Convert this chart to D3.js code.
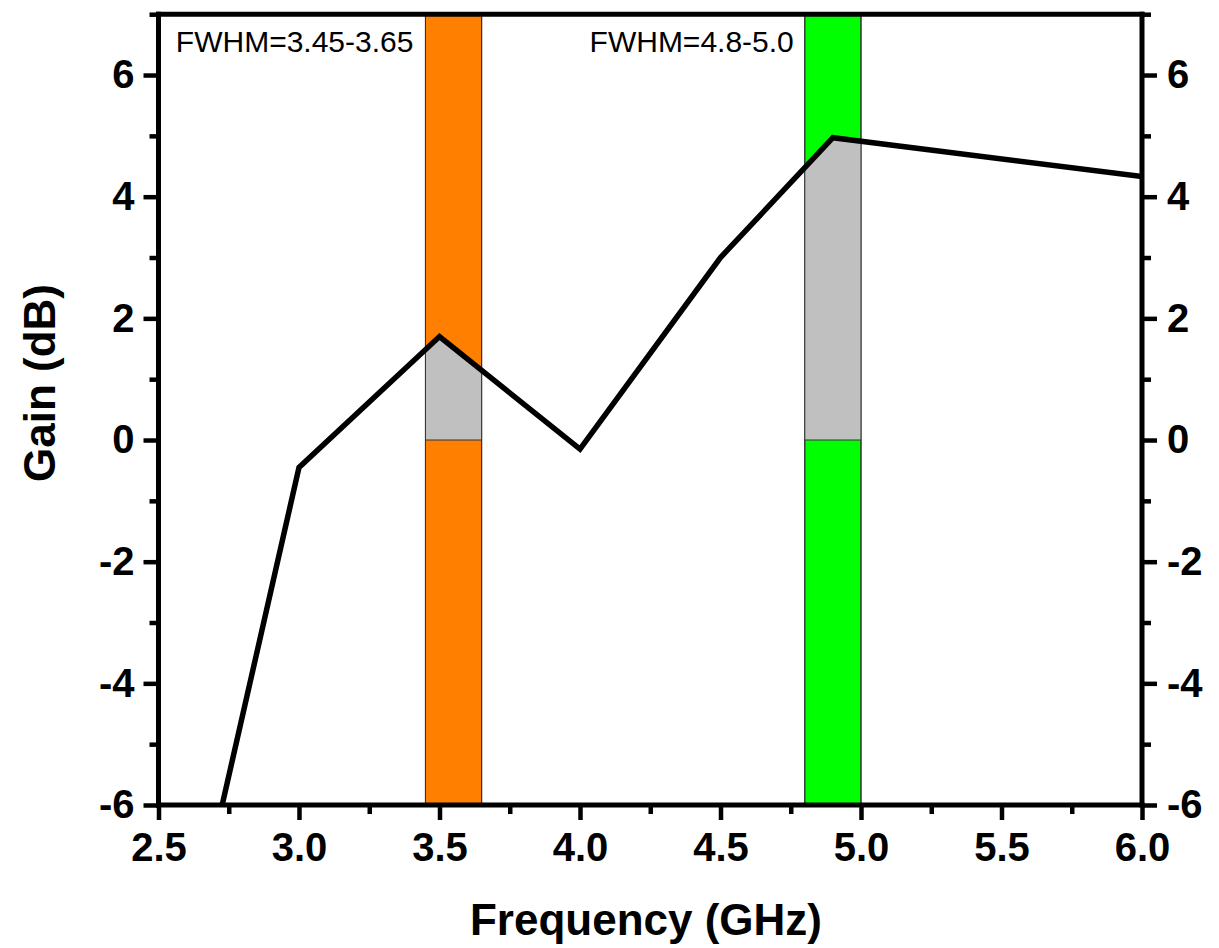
<!DOCTYPE html>
<html>
<head>
<meta charset="utf-8">
<script src="https://cdn.jsdelivr.net/npm/d3@7"></script>
<style>
  html, body { margin: 0; padding: 0; background: #fff; }
  svg { display: block; font-family: "Liberation Sans", Arial, sans-serif; }
</style>
</head>
<body>
<svg id="chart" width="1219" height="948"></svg>
<script>
// Measured gain of the amplifier versus frequency
const freq = [2.5, 3.0, 3.5, 4.0, 4.5, 4.9, 6.0];
const gain = [-10.6, -0.45, 1.7, -0.15, 3.0, 4.97, 4.33];

// Highlighted FWHM bands
const bandStart = [3.45, 4.8];
const bandEnd = [3.65, 5.0];
const bandColor = ["#FF8000", "#00FF00"];
const bandLabel = ["FWHM=3.45-3.65", "FWHM=4.8-5.0"];

// Tick values
const xMajor = [2.5, 3.0, 3.5, 4.0, 4.5, 5.0, 5.5, 6.0];
const xMinor = [2.75, 3.25, 3.75, 4.25, 4.75, 5.25, 5.75];
const yMajor = [-6, -4, -2, 0, 2, 4, 6];
const yMinor = [-5, -3, -1, 1, 3, 5, 7];

const svg = d3.select("#chart");
const pL = 158.5, pR = 1142, pT = 14.2, pB = 805;

const x = d3.scaleLinear().domain([2.5, 6.0]).range([pL, pR]);
const y = d3.scaleLinear().domain([-6, 7]).range([pB, pT]);

const pts = freq.map((f, i) => ({ f, g: gain[i] }));

const defs = svg.append("defs");
defs.append("clipPath").attr("id", "plotClip")
  .append("rect").attr("x", pL).attr("y", pT)
  .attr("width", pR - pL).attr("height", pB - pT);

bandStart.forEach((b, i) => {
  defs.append("clipPath").attr("id", "band" + i)
    .append("rect").attr("x", x(b)).attr("y", pT)
    .attr("width", x(bandEnd[i]) - x(b)).attr("height", pB - pT);
});

// Colored bands
svg.append("g").selectAll("rect").data(bandStart).join("rect")
  .attr("x", d => x(d))
  .attr("y", pT)
  .attr("width", (d, i) => x(bandEnd[i]) - x(d))
  .attr("height", pB - pT)
  .attr("fill", (d, i) => bandColor[i])
  .attr("stroke", "#333")
  .attr("stroke-width", 1);

// Gray area between 0 dB and the gain curve inside each band
const area = d3.area().x(d => x(d.f)).y0(y(0)).y1(d => y(d.g));
bandStart.forEach((b, i) => {
  const g = svg.append("g").attr("clip-path", `url(#band${i})`);
  g.append("path").datum(pts).attr("d", area)
    .attr("fill", "#C0C0C0").attr("stroke", "none");
  g.append("line")
    .attr("x1", x(b)).attr("x2", x(bandEnd[i]))
    .attr("y1", y(0)).attr("y2", y(0))
    .attr("stroke", "#333").attr("stroke-width", 1.2);
  // band edges redrawn over the gray
  [b, bandEnd[i]].forEach(v => {
    svg.append("line").attr("x1", x(v)).attr("x2", x(v))
      .attr("y1", pT).attr("y2", pB)
      .attr("stroke", "#333").attr("stroke-width", 1);
  });
});

// Gain curve
svg.append("path").datum(pts)
  .attr("clip-path", "url(#plotClip)")
  .attr("fill", "none")
  .attr("stroke", "#000")
  .attr("stroke-width", 5.5)
  .attr("stroke-linejoin", "miter")
  .attr("d", d3.line().x(d => x(d.f)).y(d => y(d.g)));

// Band labels
svg.append("g").selectAll("text").data(bandLabel).join("text")
  .attr("x", (d, i) => x(bandStart[i]) - (i === 0 ? 12 : 11))
  .attr("y", 52)
  .attr("text-anchor", "end")
  .attr("font-size", 30)
  .attr("fill", "#000")
  .text(d => d);

// Axes
const axW = 5;
function styleAxis(g) {
  g.select(".domain").remove();
  g.selectAll(".tick line").attr("stroke", "#000").attr("stroke-width", 4.5);
  g.selectAll(".tick text").attr("fill", "#000").attr("font-size", 40)
    .attr("font-weight", "bold").attr("font-family", "'Liberation Sans', Arial, sans-serif");
}
const intFmt = d => String(d);

// bottom
svg.append("g").attr("transform", `translate(0,${pB})`)
  .call(d3.axisBottom(x).tickValues(xMajor).tickSize(15).tickPadding(13).tickFormat(d3.format(".1f")))
  .call(styleAxis);
svg.append("g").attr("transform", `translate(0,${pB})`)
  .call(d3.axisBottom(x).tickValues(xMinor).tickSize(9).tickFormat(""))
  .call(styleAxis);

// left
svg.append("g").attr("transform", `translate(${pL},0)`)
  .call(d3.axisLeft(y).tickValues(yMajor).tickSize(15).tickPadding(9).tickFormat(intFmt))
  .call(styleAxis);
svg.append("g").attr("transform", `translate(${pL},0)`)
  .call(d3.axisLeft(y).tickValues(yMinor).tickSize(9).tickFormat(""))
  .call(styleAxis);

// right
svg.append("g").attr("transform", `translate(${pR},0)`)
  .call(d3.axisRight(y).tickValues(yMajor).tickSize(15).tickPadding(10).tickFormat(intFmt))
  .call(styleAxis);
svg.append("g").attr("transform", `translate(${pR},0)`)
  .call(d3.axisRight(y).tickValues(yMinor).tickSize(9).tickFormat(""))
  .call(styleAxis);

// frame
const frame = svg.append("g").attr("stroke", "#000").attr("stroke-width", axW).attr("stroke-linecap", "square");
frame.append("line").attr("x1", pL).attr("x2", pR).attr("y1", pB).attr("y2", pB);
frame.append("line").attr("x1", pL).attr("x2", pR).attr("y1", pT).attr("y2", pT);
frame.append("line").attr("x1", pL).attr("x2", pL).attr("y1", pT).attr("y2", pB);
frame.append("line").attr("x1", pR).attr("x2", pR).attr("y1", pT).attr("y2", pB);

// Axis titles
svg.append("text")
  .attr("x", 646).attr("y", 935)
  .attr("text-anchor", "middle").attr("font-size", 44).attr("font-weight", "bold")
  .text("Frequency (GHz)");
svg.append("text")
  .attr("transform", "translate(55,383) rotate(-90)")
  .attr("text-anchor", "middle").attr("font-size", 44).attr("font-weight", "bold")
  .text("Gain (dB)");
</script>
</body>
</html>
